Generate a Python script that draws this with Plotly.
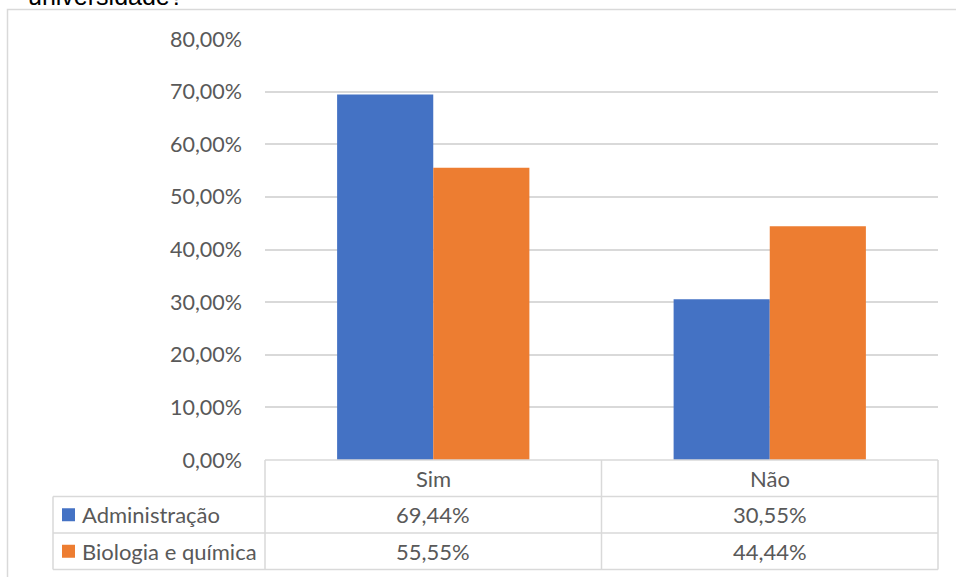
import plotly.graph_objects as go

# Survey answers and the share of each course group
categories = ["Sim", "Não"]
series_names = ["Administração", "Biologia e química"]
administracao = [0.6944, 0.3055]
biologia_quimica = [0.5555, 0.4444]
series_values = [administracao, biologia_quimica]
series_colors = ["#4472C4", "#ED7D31"]
y_ticks = [0, 0.1, 0.2, 0.3, 0.4, 0.5, 0.6, 0.7, 0.8]
title_text = "universidade?"

W, H = 956, 577
PL, PR, PT, PB = 265, 938, 39, 460  # plot area in pixels
GRID = "#D9D9D9"
TXT = "#595959"
FONT = "Lato"


def px(x):
    return (x - PL) / (PR - PL)


def py(y):
    return (PB - y) / (PB - PT)


def fmt(v):
    return f"{v * 100:.2f}%".replace(".", ",")


fig = go.Figure()
for name, vals, col in zip(series_names, series_values, series_colors):
    fig.add_trace(go.Bar(x=categories, y=vals, name=name, marker_color=col,
                         marker_line_width=0, showlegend=False))

shapes = []
annotations = []

# outer chart border
shapes.append(dict(type="rect", xref="paper", yref="paper",
                   x0=px(7.5), x1=px(960), y0=py(9.5), y1=py(600),
                   line=dict(color=GRID, width=1.5), fillcolor="rgba(0,0,0,0)", layer="below"))

# data table grid
row_y = [460, 496.5, 533, 569.5]
col_x = [53, 265, 601.5, 938]
ln = dict(color=GRID, width=1.5)
# horizontal lines
shapes.append(dict(type="line", xref="paper", yref="paper", x0=px(265), x1=px(938),
                   y0=py(row_y[0]), y1=py(row_y[0]), line=ln))
for yy in row_y[1:]:
    shapes.append(dict(type="line", xref="paper", yref="paper", x0=px(53), x1=px(938),
                       y0=py(yy), y1=py(yy), line=ln))
# vertical lines
shapes.append(dict(type="line", xref="paper", yref="paper", x0=px(53), x1=px(53),
                   y0=py(row_y[1]), y1=py(row_y[3]), line=ln))
for xx in col_x[1:]:
    shapes.append(dict(type="line", xref="paper", yref="paper", x0=px(xx), x1=px(xx),
                       y0=py(row_y[0]), y1=py(row_y[3]), line=ln))

cell_font = dict(family=FONT, size=22, color=TXT)
centers = [(col_x[1] + col_x[2]) / 2, (col_x[2] + col_x[3]) / 2]
for cat, cx in zip(categories, centers):
    annotations.append(dict(text=cat, xref="paper", yref="paper", x=px(cx),
                            y=py((row_y[0] + row_y[1]) / 2), showarrow=False,
                            xanchor="center", yanchor="middle", font=cell_font))
for i, (name, vals, col) in enumerate(zip(series_names, series_values, series_colors)):
    cy = (row_y[i + 1] + row_y[i + 2]) / 2
    shapes.append(dict(type="rect", xref="paper", yref="paper",
                       x0=px(62), x1=px(75), y0=py(cy - 6.5), y1=py(cy + 6.5),
                       fillcolor=col, line=dict(width=0)))
    annotations.append(dict(text=name, xref="paper", yref="paper", x=px(80),
                            y=py(cy), showarrow=False, xanchor="left",
                            yanchor="middle", font=cell_font))
    for v, cx in zip(vals, centers):
        annotations.append(dict(text=fmt(v), xref="paper", yref="paper", x=px(cx),
                                y=py(cy), showarrow=False, xanchor="center",
                                yanchor="middle", font=cell_font))

# chart title, partly above the top edge
annotations.append(dict(text=title_text, xref="paper", yref="paper", x=px(26),
                        y=py(12), showarrow=False, xanchor="left", yanchor="bottom",
                        font=dict(family="Liberation Sans", size=25, color="#000000")))

fig.update_layout(
    width=W, height=H,
    margin=dict(l=PL, r=W - PR, t=PT, b=H - PB, pad=0),
    paper_bgcolor="white", plot_bgcolor="white",
    separators=",.",
    barmode="group", bargap=0.4286, bargroupgap=0,
    shapes=shapes, annotations=annotations,
    xaxis=dict(showticklabels=False, showgrid=False, zeroline=False, showline=False),
    yaxis=dict(range=[0, 0.8], tickvals=y_ticks, tickformat=".2%",
               showgrid=True, gridcolor=GRID, gridwidth=1.5, zeroline=False,
               showline=False, ticks="", ticklabelstandoff=22,
               tickfont=dict(family=FONT, size=21.5, color=TXT)),
)

fig.write_html("out.html")
